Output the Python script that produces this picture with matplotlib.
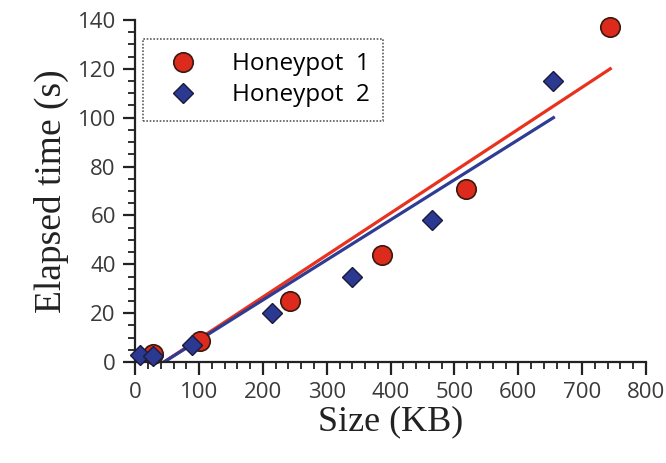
import matplotlib
matplotlib.use("Agg")
import matplotlib.pyplot as plt
from matplotlib.ticker import MultipleLocator

# measured points
hp1_size = [28, 101, 243, 387, 518, 744]
hp1_time = [3.5, 8.6, 25, 44, 71, 137]
hp2_size = [8, 28, 89, 214, 339, 465, 654]
hp2_time = [3, 2.5, 7, 20, 35, 58, 115]

# trend lines (start/end)
fit1_size = [45, 744]
fit1_time = [0, 120]
fit2_size = [45, 655]
fit2_time = [0, 100]

RED = "#dc2a1c"
BLUE = "#2b3990"

fig = plt.figure(figsize=(6.66, 4.63), dpi=100)
ax = fig.add_axes([0.203, 0.218, 0.767, 0.739])

ax.plot(fit1_size, fit1_time, color="#e8321e", lw=2.3, zorder=2)
ax.plot(fit2_size, fit2_time, color="#2e3c94", lw=2.3, zorder=2)
ax.plot(hp1_size, hp1_time, "o", ms=14, mfc=RED, mec="#3a1a10", mew=1.2,
        label="Honeypot  1", zorder=3, clip_on=False)
ax.plot(hp2_size, hp2_time, "D", ms=10.5, mfc=BLUE, mec="#1a1a3a", mew=1.0,
        label="Honeypot  2", zorder=4, clip_on=False)

ax.set_xlim(0, 800)
ax.set_ylim(0, 140)
ax.xaxis.set_major_locator(MultipleLocator(100))
ax.xaxis.set_minor_locator(MultipleLocator(20))
ax.yaxis.set_major_locator(MultipleLocator(20))
ax.yaxis.set_minor_locator(MultipleLocator(5))

for s in ["top", "right"]:
    ax.spines[s].set_visible(False)
for s in ["left", "bottom"]:
    ax.spines[s].set_linewidth(1.6)
    ax.spines[s].set_color("#222222")

ax.tick_params(which="major", direction="out", length=9, width=1.6,
               color="#222222", labelsize=16, labelcolor="#3a3a3a", pad=5)
ax.tick_params(which="minor", direction="out", length=5, width=1.3,
               color="#222222")
for lab in ax.get_xticklabels() + ax.get_yticklabels():
    lab.set_family("Open Sans")

ax.set_xlabel("Size (KB)", family="Liberation Serif", fontsize=26,
              color="#222222", labelpad=2)
ax.set_ylabel("Elapsed time (s)", family="Liberation Serif", fontsize=27,
              color="#222222", labelpad=6)

leg = ax.legend(loc="upper left", bbox_to_anchor=(0.016, 0.945),
                prop={"family": "Open Sans", "size": 17.5},
                frameon=True, fancybox=False, borderpad=0.55,
                handletextpad=0.9, labelspacing=0.3, borderaxespad=0,
                handlelength=2.2)
frame = leg.get_frame()
frame.set_edgecolor("#333333")
frame.set_linestyle((0, (1, 1)))
frame.set_linewidth(1.2)

fig.savefig("out.png", dpi=100, facecolor="white")
